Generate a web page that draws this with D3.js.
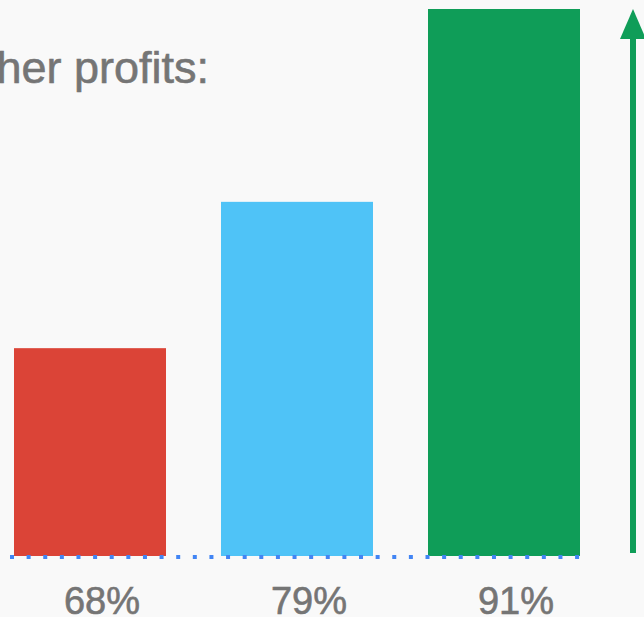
<!DOCTYPE html>
<html>
<head>
<meta charset="utf-8">
<script src="https://cdn.jsdelivr.net/npm/d3@7"></script>
<style>
  html, body { margin: 0; padding: 0; background: #f9f9f9; overflow: hidden; }
  svg { display: block; }
</style>
</head>
<body>
<script>
// ---- data ----
const categories = ["low", "mid", "high"];
const values = [68, 79, 91];
const tickLabels = ["68%", "79%", "91%"];
const barColors = ["#db4437", "#4fc3f7", "#0f9d58"];
const titleText = "her profits:";

// ---- layout ----
const W = 644, H = 617;
const baseY = 556, topY = 9;
const valueFloor = 46.4; // visual axis floor of the stylised chart
const textFont = "'Liberation Sans', Arial, Helvetica, sans-serif";

const svg = d3.select("body").append("svg")
  .attr("width", W).attr("height", H);

svg.append("rect").attr("width", W).attr("height", H).attr("fill", "#f9f9f9");

const x = d3.scaleBand()
  .domain(categories)
  .range([14, 580])
  .paddingInner(0.2657)
  .paddingOuter(0);

const y = d3.scalePow()
  .exponent(2.3)
  .domain([valueFloor, d3.max(values)])
  .range([baseY, topY]);

const data = categories.map((c, i) => ({ cat: c, value: values[i], label: tickLabels[i], color: barColors[i] }));

// title (partially visible)
svg.append("text")
  .attr("x", 209)
  .attr("y", 83)
  .attr("text-anchor", "end")
  .attr("font-family", textFont)
  .attr("font-size", 45)
  .attr("fill", "#757575")
  .attr("stroke", "#757575")
  .attr("stroke-width", 0.6)
  .text(titleText);

// bars
svg.selectAll("rect.bar")
  .data(data)
  .join("rect")
  .attr("class", "bar")
  .attr("x", d => x(d.cat))
  .attr("y", d => y(d.value))
  .attr("width", x.bandwidth())
  .attr("height", d => baseY - y(d.value))
  .attr("fill", d => d.color);

// dotted baseline
svg.append("line")
  .attr("x1", 10)
  .attr("x2", 580)
  .attr("y1", baseY + 1)
  .attr("y2", baseY + 1)
  .attr("stroke", "#4285f4")
  .attr("stroke-width", 4)
  .attr("stroke-dasharray", "4 12.62");

// category labels
const xAxis = d3.axisBottom(x).tickSize(0).tickFormat((d, i) => tickLabels[i]);
const ax = svg.append("g")
  .attr("transform", `translate(12, ${baseY})`)
  .call(xAxis);
ax.select(".domain").remove();
ax.selectAll("text")
  .attr("dy", 0)
  .attr("y", 58)
  .attr("font-family", textFont)
  .attr("font-size", 38)
  .attr("fill", "#757575")
  .attr("stroke", "#757575")
  .attr("stroke-width", 0.6);

// growth arrow
const arrowX = 633;
svg.append("line")
  .attr("x1", arrowX).attr("x2", arrowX)
  .attr("y1", 553).attr("y2", 36)
  .attr("stroke", "#0f9d58")
  .attr("stroke-width", 6);
svg.append("path")
  .attr("d", `M${arrowX},${topY} L${arrowX - 13},39 L${arrowX + 13},39 Z`)
  .attr("fill", "#0f9d58");
</script>
</body>
</html>
